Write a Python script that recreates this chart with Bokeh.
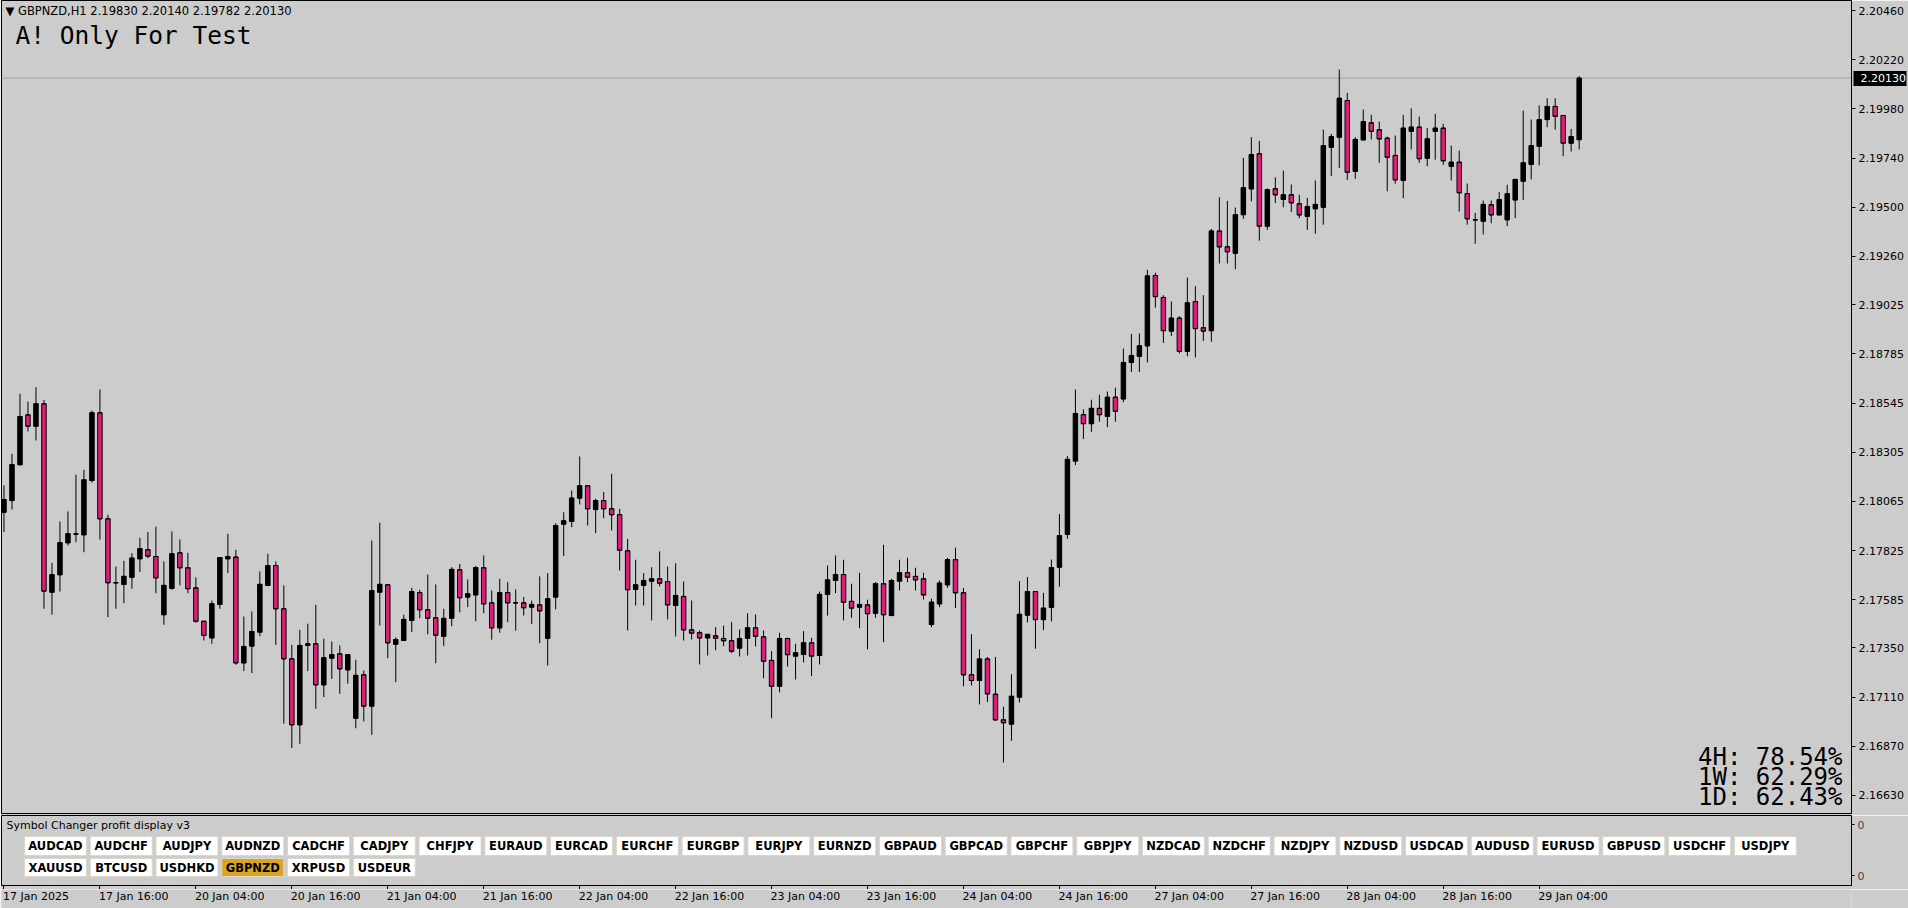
from bokeh.plotting import figure
from bokeh.layouts import column
from bokeh.models import (Range1d, FixedTicker, PrintfTickFormatter, Label,
                          ColumnDataSource, Span, LinearAxis)
from bokeh.embed import file_html
from bokeh.resources import INLINE
from bokeh.core.properties import value

# ---------------- data (GBPNZD, H1, bars from 17 Jan 2025 04:00) ----------------
opens = [2.18012, 2.18069, 2.18244, 2.18487, 2.18432, 2.18541, 2.17622, 2.17707, 2.17863, 2.17906,
         2.17902, 2.18167, 2.18497, 2.17980, 2.17668, 2.17660, 2.17695, 2.17785, 2.17829, 2.17796,
         2.17512, 2.17641, 2.17814, 2.17741, 2.17643, 2.17480, 2.17399, 2.17562, 2.17785, 2.17793,
         2.17277, 2.17359, 2.17427, 2.17655, 2.17752, 2.17541, 2.17297, 2.16975, 2.17362, 2.17370,
         2.17170, 2.17300, 2.17321, 2.17243, 2.17007, 2.17219, 2.17066, 2.17622, 2.17658, 2.17368,
         2.17386, 2.17484, 2.17620, 2.17536, 2.17497, 2.17407, 2.17495, 2.17731, 2.17598, 2.17609,
         2.17741, 2.17570, 2.17448, 2.17620, 2.17570, 2.17570, 2.17549, 2.17560, 2.17397, 2.17598,
         2.17954, 2.17967, 2.18081, 2.18141, 2.18025, 2.18069, 2.18029, 2.18000, 2.17824, 2.17635,
         2.17655, 2.17676, 2.17687, 2.17674, 2.17557, 2.17601, 2.17438, 2.17424, 2.17399, 2.17409,
         2.17396, 2.17385, 2.17349, 2.17397, 2.17448, 2.17404, 2.17289, 2.17163, 2.17396, 2.17310,
         2.17318, 2.17375, 2.17313, 2.17611, 2.17679, 2.17708, 2.17577, 2.17549, 2.17560, 2.17519,
         2.17663, 2.17508, 2.17676, 2.17717, 2.17699, 2.17687, 2.17464, 2.17565, 2.17658, 2.17781,
         2.17619, 2.17219, 2.17191, 2.17296, 2.17124, 2.16999, 2.16978, 2.17110, 2.17510, 2.17625,
         2.17488, 2.17548, 2.17744, 2.17904, 2.18262, 2.18488, 2.18444, 2.18519, 2.18480, 2.18573,
         2.18565, 2.18743, 2.18773, 2.18824, 2.19167, 2.19060, 2.18896, 2.18959, 2.18797, 2.19040,
         2.18912, 2.18898, 2.19384, 2.19307, 2.19276, 2.19464, 2.19590, 2.19761, 2.19408, 2.19590,
         2.19538, 2.19561, 2.19517, 2.19456, 2.19493, 2.19500, 2.19793, 2.19842, 2.20021, 2.19675,
         2.19829, 2.19912, 2.19878, 2.19837, 2.19753, 2.19631, 2.19871, 2.19891, 2.19739, 2.19871,
         2.19886, 2.19700, 2.19720, 2.19567, 2.19439, 2.19432, 2.19512, 2.19463, 2.19439, 2.19536,
         2.19627, 2.19709, 2.19798, 2.19928, 2.19992, 2.19948, 2.19813, 2.19830]
highs = [2.18143, 2.18297, 2.18590, 2.18552, 2.18622, 2.18560, 2.17765, 2.17967, 2.18016, 2.18195,
         2.18219, 2.18508, 2.18611, 2.18000, 2.17747, 2.17775, 2.17812, 2.17887, 2.17915, 2.17942,
         2.17772, 2.17918, 2.17879, 2.17814, 2.17694, 2.17482, 2.17581, 2.17793, 2.17907, 2.17829,
         2.17503, 2.17528, 2.17723, 2.17809, 2.17772, 2.17655, 2.17365, 2.17438, 2.17468, 2.17560,
         2.17395, 2.17381, 2.17362, 2.17317, 2.17292, 2.17240, 2.17874, 2.17961, 2.17660, 2.17402,
         2.17512, 2.17643, 2.17634, 2.17708, 2.17660, 2.17541, 2.17744, 2.17760, 2.17684, 2.17749,
         2.17801, 2.17630, 2.17687, 2.17671, 2.17635, 2.17598, 2.17581, 2.17699, 2.17715, 2.17959,
         2.18012, 2.18118, 2.18284, 2.18143, 2.18078, 2.18110, 2.18200, 2.18029, 2.17882, 2.17780,
         2.17715, 2.17744, 2.17821, 2.17747, 2.17763, 2.17674, 2.17581, 2.17435, 2.17416, 2.17451,
         2.17459, 2.17476, 2.17440, 2.17519, 2.17513, 2.17435, 2.17334, 2.17424, 2.17399, 2.17370,
         2.17432, 2.17399, 2.17625, 2.17752, 2.17801, 2.17780, 2.17663, 2.17717, 2.17585, 2.17671,
         2.17853, 2.17687, 2.17780, 2.17790, 2.17741, 2.17717, 2.17590, 2.17679, 2.17790, 2.17839,
         2.17643, 2.17417, 2.17343, 2.17306, 2.17306, 2.17063, 2.17221, 2.17676, 2.17696, 2.17627,
         2.17619, 2.17781, 2.18003, 2.18286, 2.18611, 2.18514, 2.18561, 2.18585, 2.18601, 2.18620,
         2.18811, 2.18882, 2.18884, 2.19195, 2.19181, 2.19071, 2.19040, 2.18969, 2.19157, 2.19115,
         2.19071, 2.19394, 2.19549, 2.19531, 2.19499, 2.19741, 2.19842, 2.19824, 2.19592, 2.19646,
         2.19679, 2.19611, 2.19561, 2.19546, 2.19631, 2.19879, 2.19858, 2.20172, 2.20058, 2.19842,
         2.19977, 2.19951, 2.19918, 2.19845, 2.19850, 2.19951, 2.19983, 2.19943, 2.19886, 2.19956,
         2.19907, 2.19801, 2.19777, 2.19616, 2.19473, 2.19533, 2.19533, 2.19574, 2.19610, 2.19637,
         2.19972, 2.19928, 2.19997, 2.20032, 2.20032, 2.19950, 2.19882, 2.20140]
lows = [2.17915, 2.18025, 2.18240, 2.18406, 2.18362, 2.17541, 2.17512, 2.17625, 2.17850, 2.17866,
        2.17817, 2.18156, 2.17878, 2.17500, 2.17541, 2.17568, 2.17639, 2.17720, 2.17788, 2.17617,
        2.17463, 2.17634, 2.17655, 2.17617, 2.17473, 2.17386, 2.17370, 2.17541, 2.17715, 2.17268,
        2.17237, 2.17227, 2.17407, 2.17651, 2.17365, 2.16980, 2.16861, 2.16882, 2.17237, 2.17053,
        2.17110, 2.17199, 2.17126, 2.17175, 2.16958, 2.16991, 2.16926, 2.17459, 2.17300, 2.17183,
        2.17384, 2.17427, 2.17495, 2.17416, 2.17275, 2.17359, 2.17456, 2.17524, 2.17549, 2.17480,
        2.17519, 2.17390, 2.17424, 2.17476, 2.17434, 2.17508, 2.17466, 2.17373, 2.17264, 2.17538,
        2.17798, 2.17939, 2.18050, 2.17947, 2.17910, 2.17983, 2.17923, 2.17728, 2.17435, 2.17557,
        2.17557, 2.17484, 2.17650, 2.17489, 2.17406, 2.17386, 2.17391, 2.17269, 2.17313, 2.17338,
        2.17359, 2.17324, 2.17308, 2.17313, 2.17357, 2.17202, 2.17007, 2.17133, 2.17259, 2.17196,
        2.17279, 2.17212, 2.17269, 2.17508, 2.17617, 2.17484, 2.17497, 2.17446, 2.17343, 2.17497,
        2.17378, 2.17505, 2.17630, 2.17671, 2.17630, 2.17586, 2.17451, 2.17549, 2.17643, 2.17544,
        2.17163, 2.17167, 2.17074, 2.17086, 2.16994, 2.16791, 2.16897, 2.17084, 2.17474, 2.17346,
        2.17437, 2.17479, 2.17649, 2.17882, 2.18242, 2.18369, 2.18404, 2.18454, 2.18427, 2.18454,
        2.18549, 2.18696, 2.18696, 2.18743, 2.19010, 2.18838, 2.18872, 2.18787, 2.18773, 2.18767,
        2.18848, 2.18844, 2.19226, 2.19226, 2.19198, 2.19444, 2.19529, 2.19337, 2.19390, 2.19521,
        2.19500, 2.19476, 2.19447, 2.19390, 2.19371, 2.19415, 2.19652, 2.19691, 2.19634, 2.19639,
        2.19828, 2.19831, 2.19717, 2.19578, 2.19615, 2.19544, 2.19782, 2.19717, 2.19700, 2.19732,
        2.19707, 2.19631, 2.19479, 2.19415, 2.19322, 2.19367, 2.19422, 2.19462, 2.19408, 2.19447,
        2.19536, 2.19636, 2.19704, 2.19891, 2.19879, 2.19749, 2.19772, 2.19782]
closes = [2.18074, 2.18244, 2.18479, 2.18432, 2.18541, 2.17627, 2.17707, 2.17863, 2.17907, 2.17906,
          2.18170, 2.18497, 2.17980, 2.17668, 2.17668, 2.17699, 2.17788, 2.17834, 2.17798, 2.17692,
          2.17655, 2.17809, 2.17741, 2.17639, 2.17480, 2.17411, 2.17565, 2.17791, 2.17796, 2.17277,
          2.17357, 2.17430, 2.17660, 2.17752, 2.17541, 2.17297, 2.16975, 2.17362, 2.17370, 2.17170,
          2.17302, 2.17317, 2.17248, 2.17317, 2.17216, 2.17066, 2.17630, 2.17660, 2.17375, 2.17391,
          2.17489, 2.17625, 2.17536, 2.17495, 2.17412, 2.17494, 2.17733, 2.17595, 2.17614, 2.17742,
          2.17565, 2.17448, 2.17620, 2.17570, 2.17570, 2.17546, 2.17562, 2.17531, 2.17590, 2.17947,
          2.17970, 2.18081, 2.18141, 2.18029, 2.18069, 2.18029, 2.18000, 2.17827, 2.17634, 2.17658,
          2.17679, 2.17687, 2.17666, 2.17560, 2.17606, 2.17438, 2.17422, 2.17399, 2.17416, 2.17397,
          2.17385, 2.17334, 2.17396, 2.17448, 2.17407, 2.17285, 2.17163, 2.17396, 2.17317, 2.17326,
          2.17375, 2.17310, 2.17611, 2.17682, 2.17708, 2.17573, 2.17544, 2.17562, 2.17517, 2.17663,
          2.17512, 2.17679, 2.17717, 2.17695, 2.17682, 2.17609, 2.17573, 2.17666, 2.17781, 2.17619,
          2.17219, 2.17191, 2.17296, 2.17126, 2.16999, 2.16985, 2.17114, 2.17514, 2.17625, 2.17488,
          2.17544, 2.17742, 2.17898, 2.18270, 2.18494, 2.18444, 2.18519, 2.18488, 2.18573, 2.18505,
          2.18743, 2.18777, 2.18824, 2.19165, 2.19064, 2.18898, 2.18959, 2.18797, 2.19034, 2.18908,
          2.18896, 2.19384, 2.19307, 2.19283, 2.19464, 2.19596, 2.19757, 2.19408, 2.19586, 2.19561,
          2.19561, 2.19522, 2.19463, 2.19504, 2.19514, 2.19801, 2.19845, 2.20032, 2.19671, 2.19831,
          2.19918, 2.19871, 2.19834, 2.19744, 2.19634, 2.19886, 2.19891, 2.19737, 2.19834, 2.19886,
          2.19727, 2.19720, 2.19571, 2.19444, 2.19439, 2.19514, 2.19463, 2.19538, 2.19566, 2.19636,
          2.19717, 2.19801, 2.19928, 2.19992, 2.19944, 2.19813, 2.19845, 2.20130]

price_ticks = [2.20460, 2.20220, 2.19980, 2.19740, 2.19500, 2.19260, 2.19025, 2.18785, 2.18545,
               2.18305, 2.18065, 2.17825, 2.17585, 2.17350, 2.17110, 2.16870, 2.16630]
time_tick_bars = [0, 12, 24, 36, 48, 60, 72, 84, 96, 108, 120, 132, 144, 156, 168, 180, 192]
time_labels = ["17 Jan 2025", "17 Jan 16:00", "20 Jan 04:00", "20 Jan 16:00", "21 Jan 04:00",
               "21 Jan 16:00", "22 Jan 04:00", "22 Jan 16:00", "23 Jan 04:00", "23 Jan 16:00",
               "24 Jan 04:00", "24 Jan 16:00", "27 Jan 04:00", "27 Jan 16:00", "28 Jan 04:00",
               "28 Jan 16:00", "29 Jan 04:00"]
symbols_row1 = ["AUDCAD", "AUDCHF", "AUDJPY", "AUDNZD", "CADCHF", "CADJPY", "CHFJPY", "EURAUD",
                "EURCAD", "EURCHF", "EURGBP", "EURJPY", "EURNZD", "GBPAUD", "GBPCAD", "GBPCHF",
                "GBPJPY", "NZDCAD", "NZDCHF", "NZDJPY", "NZDUSD", "USDCAD", "AUDUSD", "EURUSD",
                "GBPUSD", "USDCHF", "USDJPY"]
symbols_row2 = ["XAUUSD", "BTCUSD", "USDHKD", "GBPNZD", "XRPUSD", "USDEUR"]
active_symbol = "GBPNZD"
chart_symbol = "GBPNZD,H1"
last_ohlc = [2.19830, 2.20140, 2.19782, 2.20130]
chart_comment = "A! Only For Test"
indicator_title = "Symbol Changer profit display v3"
profit_lines = ["4H: 78.54%", "1W: 62.29%", "1D: 62.43%"]

# ---------------- style / layout ----------------
BG = "#CCCCCC"
BEAR = "#DC1E7A"
FONT = "DejaVu Sans"
W = 1908
LB, RB = 1, 56
FRAME_W = W - LB - RB          # 1851
MAIN_H = 815
MAIN_FRAME_H = 813
SUB_H = 74                     # 70 frame + 4 tick area
TIME_H = 19

x_rng = Range1d(-0.31, 231.06)

p = figure(width=W, height=MAIN_H, x_range=x_rng, y_range=Range1d(2.16542, 2.20509),
           x_axis_location=None, y_axis_location="right",
           output_backend="svg", toolbar_location=None,
           background_fill_color=BG, border_fill_color=BG,
           outline_line_color="black", outline_line_width=1,
           min_border_left=LB, min_border_right=RB, min_border_top=0, min_border_bottom=2)
p.grid.visible = False
ya = p.yaxis[0]
ya.ticker = FixedTicker(ticks=price_ticks)
ya.formatter = PrintfTickFormatter(format="%.5f")
ya.major_tick_in = 0
ya.major_tick_out = 4
ya.minor_tick_in = 0
ya.minor_tick_out = 0
ya.axis_line_color = "black"
ya.major_tick_line_color = "black"
ya.major_label_standoff = 3
ya.major_label_text_font = FONT
ya.major_label_text_font_size = "11px"
ya.major_label_text_color = "black"

# current-price tag: a second right-hand axis of zero size, stacked after the price axis;
# its single thick tick reaches back over the price scale (black box), label drawn on it in white
tag_axis = LinearAxis(ticker=FixedTicker(ticks=[closes[-1]]),
                      formatter=PrintfTickFormatter(format="%.5f"),
                      axis_line_color=None,
                      major_tick_in=53, major_tick_out=0, major_tick_line_width=15,
                      major_tick_line_color="black", minor_tick_in=0, minor_tick_out=0,
                      major_label_standoff=-46, major_label_text_color="white",
                      major_label_text_font=FONT, major_label_text_font_size="11px")
p.add_layout(tag_axis, "right")

# bid line
p.add_layout(Span(location=closes[-1], dimension="width", line_color="#A4A4A4",
                  line_width=1, level="underlay"))

n = len(opens)
idx = list(range(n))
hw = 0.28
src = ColumnDataSource(dict(
    x=idx, o=opens, h=highs, l=lows, c=closes,
    top=[max(a, b) for a, b in zip(opens, closes)],
    bot=[min(a, b) for a, b in zip(opens, closes)],
    fill=["black" if c >= o else BEAR for o, c in zip(opens, closes)],
    xl=[i - hw for i in idx], xr=[i + hw for i in idx],
))
p.segment(x0="x", y0="l", x1="x", y1="h", source=src, line_color="black", line_width=1)
p.vbar(x="x", width=2 * hw, top="top", bottom="bot", source=src,
       fill_color="fill", line_color="black", line_width=1)
p.segment(x0="xl", y0="o", x1="xr", y1="o", source=src, line_color="black", line_width=1)
p.segment(x0="xl", y0="c", x1="xr", y1="c", source=src, line_color="black", line_width=1)

# header / comment / profit texts
header = "\u25BC " + chart_symbol + "  " + " ".join(f"{v:.5f}" for v in last_ohlc)
p.add_layout(Label(x=4, y=MAIN_FRAME_H - 10, x_units="screen", y_units="screen",
                   text=header, text_font=FONT, text_font_size="11.5px",
                   text_baseline="middle", text_color="black"))
p.add_layout(Label(x=14, y=MAIN_FRAME_H - 34.5, x_units="screen", y_units="screen",
                   text=chart_comment, text_font="DejaVu Sans Mono", text_font_size="24.5px",
                   text_baseline="middle", text_color="black"))
for k, line in enumerate(profit_lines):
    p.add_layout(Label(x=FRAME_W - 10, y=56.5 - 20 * k, x_units="screen", y_units="screen",
                       text=line, text_font="DejaVu Sans Mono", text_font_size="24px",
                       text_align="right", text_baseline="middle", text_color="black"))

# ---------------- indicator sub-window ----------------
s = figure(width=W, height=SUB_H, x_range=x_rng, y_range=Range1d(0, 70),
           x_axis_location="below", y_axis_location="right",
           output_backend="svg", toolbar_location=None,
           background_fill_color=BG, border_fill_color=BG,
           outline_line_color="black", outline_line_width=1,
           min_border_left=LB, min_border_right=RB, min_border_top=0, min_border_bottom=4)
s.grid.visible = False
s.extra_x_ranges = {"px": Range1d(0, FRAME_W)}

sy = s.yaxis[0]
sy.ticker = FixedTicker(ticks=[61, 10])
sy.major_label_overrides = {61: "0", 10: "0"}
sy.major_tick_in = 0
sy.major_tick_out = 3
sy.minor_tick_out = 0
sy.minor_tick_in = 0
sy.major_label_standoff = 3
sy.major_label_text_font = FONT
sy.major_label_text_font_size = "11px"
sy.axis_line_color = "black"

sx = s.xaxis[0]
sx.ticker = FixedTicker(ticks=time_tick_bars)
sx.major_label_overrides = {t: "" for t in time_tick_bars}
sx.major_label_text_font_size = "0px"
sx.major_label_standoff = 0
sx.major_tick_in = 0
sx.major_tick_out = 4
sx.minor_tick_in = 0
sx.minor_tick_out = 0
sx.axis_line_color = None
sx.major_tick_line_color = "black"

s.add_layout(Label(x=5, y=60, x_units="screen", y_units="data", text=indicator_title,
                   text_font=FONT, text_font_size="11px", text_baseline="middle",
                   text_color="black"))

pitch, bw = 65.8, 62
for row, yc, bh in ((symbols_row1, 39.5, 19), (symbols_row2, 18, 18)):
    xs = [23 + bw / 2 + i * pitch for i in range(len(row))]
    fills = ["#DAA520" if sym == active_symbol else "white" for sym in row]
    s.rect(x=xs, y=[yc] * len(row), width=bw, height=bh, x_range_name="px",
           fill_color=fills, line_color="#DCD6CA", line_width=1)
    s.text(x=xs, y=[yc] * len(row), text=row, x_range_name="px",
           text_align="center", text_baseline="middle", text_font=value(FONT),
           text_font_style="bold", text_font_size="11.5px", text_color="black")

# ---------------- time scale strip ----------------
t = figure(width=W, height=TIME_H, x_range=x_rng, y_range=Range1d(0, TIME_H),
           x_axis_location=None, y_axis_location=None,
           output_backend="svg", toolbar_location=None,
           background_fill_color=BG, border_fill_color=BG, outline_line_color=None,
           min_border_left=LB, min_border_right=RB, min_border_top=0, min_border_bottom=0)
t.grid.visible = False
t.text(x=time_tick_bars, y=[TIME_H - 7] * len(time_tick_bars), text=time_labels,
       x_offset=-1, text_align="left", text_baseline="middle", text_font=value(FONT),
       text_font_size="11px", text_color="black")

layout = column(p, s, t, spacing=0)
open("out.html", "w").write(file_html(layout, INLINE, title="GBPNZD,H1"))
